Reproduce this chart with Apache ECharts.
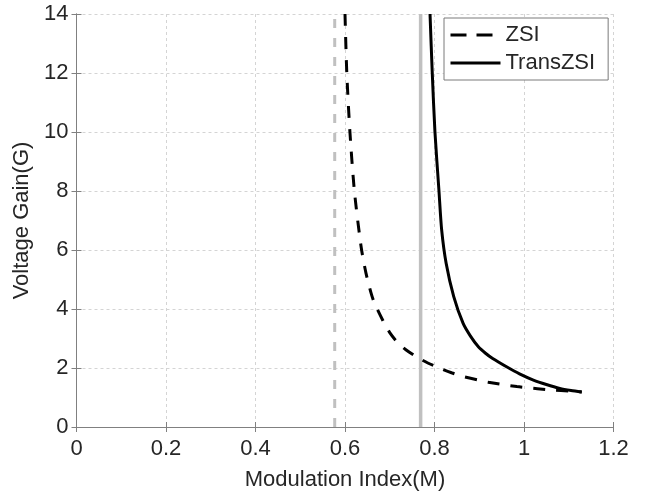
<!DOCTYPE html>
<html>
<head>
<meta charset="utf-8">
<script src="https://cdn.jsdelivr.net/npm/echarts@6/dist/echarts.min.js"></script>
<style>html,body{margin:0;padding:0;background:#fff}#c{width:648px;height:497px}</style>
</head>
<body>
<div id="c"></div>
<script>
// Data
const xTicks = [0, 0.2, 0.4, 0.6, 0.8, 1, 1.2];
const yTicks = [0, 2, 4, 6, 8, 10, 12, 14];
const zsiM = [0.600,0.604,0.611,0.621,0.636,0.647,0.663,0.686,0.700,0.716,0.736,0.760,0.785,0.812,0.838,0.864,0.920,0.984,1.030,1.065,1.100,1.129];
const zsiG = [14.0,12.0,10.0,8.0,6.11,5.21,4.31,3.57,3.20,2.89,2.62,2.38,2.17,1.99,1.84,1.71,1.52,1.37,1.30,1.25,1.22,1.19];
const transM = [0.790,0.795,0.801,0.810,0.816,0.826,0.843,0.864,0.880,0.898,0.914,0.930,0.961,0.990,1.021,1.050,1.080,1.105,1.129];
const transG = [14.0,12.0,10.0,8.0,6.68,5.55,4.42,3.51,3.09,2.72,2.50,2.32,2.04,1.80,1.59,1.44,1.31,1.24,1.19];
const zsiAsymM = 0.577;
const transAsymM = 0.769;
const yRange = [0, 14];

const pairs = (xs, ys) => xs.map((x, i) => [x, ys[i]]);
const font = 'Liberation Sans, Arial, sans-serif';
const axisCol = '#808080';
const txtCol = '#262626';

const chart = echarts.init(document.getElementById('c'), null, {renderer: 'canvas'});
const baseX = {
  type: 'value', min: xTicks[0], max: xTicks[xTicks.length-1], interval: 0.2,
  axisLine: {show: true, lineStyle: {color: axisCol, width: 1}},
  axisTick: {show: true, inside: true, length: 5, lineStyle: {color: axisCol}},
};
const baseY = {
  type: 'value', min: yTicks[0], max: yTicks[yTicks.length-1], interval: 2,
  axisLine: {show: true, lineStyle: {color: axisCol, width: 1}},
  axisTick: {show: true, inside: true, length: 5, lineStyle: {color: axisCol}},
};
chart.setOption({
  animation: false,
  backgroundColor: '#fff',
  grid: {left: 76.5, right: 34.5, top: 14, bottom: 70, containLabel: false},
  legend: {
    data: [
      {name: 'ZSI', lineStyle: {width: 3, type: [16, 10]}},
      {name: 'TransZSI', lineStyle: {width: 3}},
    ],
    orient: 'vertical', left: 444, top: 18,
    padding: [6, 13, 6, 5], itemGap: 6, itemWidth: 50, itemHeight: 22,
    backgroundColor: '#fff', borderColor: '#7a7a7a', borderWidth: 1,
    itemStyle: {opacity: 0},
    lineStyle: {width: 3},
    textStyle: {fontFamily: font, fontSize: 22, color: txtCol},
  },
  xAxis: [
    Object.assign({}, baseX, {
      position: 'bottom',
      name: 'Modulation Index(M)', nameLocation: 'middle', nameGap: 42,
      nameTextStyle: {fontFamily: font, fontSize: 22, color: txtCol},
      axisLabel: {fontFamily: font, fontSize: 22, color: txtCol, margin: 11,
        formatter: v => String(+v.toFixed(1))},
      splitLine: {show: true, lineStyle: {color: '#d4d4d4', type: [3, 3], width: 1}},
    }),
    Object.assign({}, baseX, {position: 'top', axisLabel: {show: false}, splitLine: {show: false}}),
  ],
  yAxis: [
    Object.assign({}, baseY, {
      position: 'left',
      name: 'Voltage Gain(G)', nameLocation: 'middle', nameGap: 33,
      nameTextStyle: {fontFamily: font, fontSize: 22, color: txtCol},
      axisLabel: {fontFamily: font, fontSize: 22, color: txtCol, margin: 8},
      splitLine: {show: true, lineStyle: {color: '#d4d4d4', type: [3, 3], width: 1}},
    }),
    Object.assign({}, baseY, {position: 'right', axisLabel: {show: false}, splitLine: {show: false}}),
  ],
  series: [
    {
      name: 'zsiAsym', type: 'line', symbol: 'none', silent: true, z: 1,
      data: [[zsiAsymM, yRange[0]], [zsiAsymM, yRange[1]]],
      lineStyle: {color: '#c0c0c0', width: 3, type: [9, 10]},
    },
    {
      name: 'transAsym', type: 'line', symbol: 'none', silent: true, z: 1,
      data: [[transAsymM, yRange[0]], [transAsymM, yRange[1]]],
      lineStyle: {color: '#c0c0c0', width: 3.5, type: 'solid'},
    },
    {
      name: 'ZSI', type: 'line', symbol: 'none', smooth: 0.25, z: 3,
      data: pairs(zsiM, zsiG),
      lineStyle: {color: '#000', width: 3, type: [12, 11]},
      itemStyle: {color: '#000'},
    },
    {
      name: 'TransZSI', type: 'line', symbol: 'none', smooth: 0.25, z: 3,
      data: pairs(transM, transG),
      lineStyle: {color: '#000', width: 3, type: 'solid'},
      itemStyle: {color: '#000'},
    },
  ],
});
</script>
</body>
</html>
